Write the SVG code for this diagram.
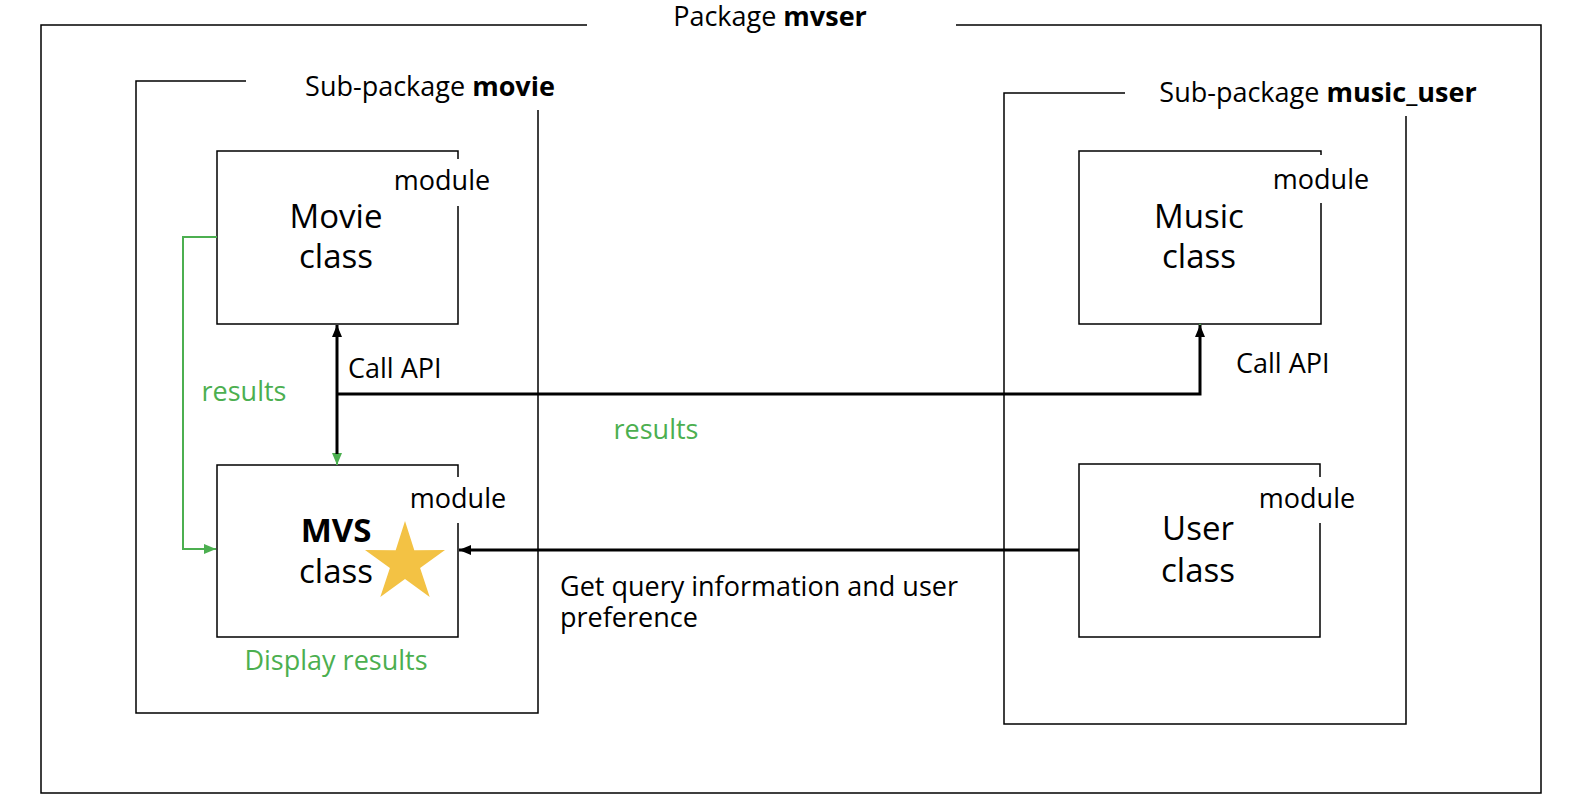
<svg xmlns="http://www.w3.org/2000/svg" width="1576" height="812" viewBox="0 0 1576 812">
<style>
text{font-family:"Open Sans","Liberation Sans",sans-serif;fill:#000}
.s{font-size:27px}
.l{font-size:33px}
.b{font-weight:bold}
.g{fill:#4caf50}
.frame{fill:none;stroke:#000;stroke-width:1.5}
.box{fill:none;stroke:#000;stroke-width:1.5}
.cb{fill:none;stroke:#000;stroke-width:3}
.cg{fill:none;stroke:#4caf50;stroke-width:2}
</style>
<defs>
<marker id="ab" markerUnits="userSpaceOnUse" markerWidth="12" markerHeight="10" refX="12" refY="5" orient="auto">
<path d="M0,0 L12,5 L0,10 z" fill="#000"/>
</marker>
<marker id="ag" markerUnits="userSpaceOnUse" markerWidth="12" markerHeight="10" refX="12" refY="5" orient="auto">
<path d="M0,0 L12,5 L0,10 z" fill="#4caf50"/>
</marker>
</defs>
<rect width="1576" height="812" fill="#fff"/>

<g id="pkg-mvser">
<path class="frame" d="M587,25 H41 V793 H1541 V25 H956"/>
<text class="s" x="770" y="26" text-anchor="middle">Package <tspan class="b">mvser</tspan></text>
</g>

<g id="pkg-movie">
<path class="frame" d="M246,81 H136 V713 H538 V110"/>
<text class="s" x="430" y="96" text-anchor="middle">Sub-package <tspan class="b">movie</tspan></text>
</g>

<g id="pkg-music_user">
<path class="frame" d="M1125,93 H1004 V724 H1406 V116"/>
<text class="s" x="1318" y="102" text-anchor="middle">Sub-package <tspan class="b">music_user</tspan></text>
</g>

<g id="node-movie">
<path class="box" d="M458,159 V151 H217 V324 H458 V206"/>
<text class="s" x="442" y="190" text-anchor="middle">module</text>
<text class="l" x="336" y="228" text-anchor="middle">Movie</text>
<text class="l" x="336" y="268" text-anchor="middle">class</text>
</g>

<g id="node-mvs">
<path class="box" d="M458,477 V465 H217 V637 H458 V523"/>
<text class="s" x="458" y="508" text-anchor="middle">module</text>
<text class="l b" x="336" y="542" text-anchor="middle">MVS</text>
<text class="l" x="336" y="583" text-anchor="middle">class</text>
<polygon fill="#f3c244" points="405,521 414.3,550.2 445,550.0 420.1,567.9 429.7,597.0 405,578.9 380.3,597.0 389.9,567.9 365,550.0 395.7,550.2"/>
<text class="s g" x="336" y="670" text-anchor="middle">Display results</text>
</g>

<g id="node-music">
<path class="box" d="M1321,155 V151 H1079 V324 H1321 V203"/>
<text class="s" x="1321" y="189" text-anchor="middle">module</text>
<text class="l" x="1199" y="228" text-anchor="middle">Music</text>
<text class="l" x="1199" y="268" text-anchor="middle">class</text>
</g>

<g id="node-user">
<path class="box" d="M1320,477 V464 H1079 V637 H1320 V523"/>
<text class="s" x="1307" y="508" text-anchor="middle">module</text>
<text class="l" x="1198" y="540" text-anchor="middle">User</text>
<text class="l" x="1198" y="582" text-anchor="middle">class</text>
</g>

<g id="connectors">
<path class="cg" d="M1200,324 V394 H337 V465" marker-end="url(#ag)"/>
<path class="cg" d="M217,237 H183 V549 H216" marker-end="url(#ag)"/>
<path class="cb" d="M337,454 V325" marker-end="url(#ab)"/>
<path class="cb" d="M337,394 H1200 V325" marker-end="url(#ab)"/>
<path class="cb" d="M1079,550 H459" marker-end="url(#ab)"/>
</g>

<g id="labels">
<text class="s" x="348" y="378">Call API</text>
<text class="s" x="1236" y="373">Call API</text>
<text class="s g" x="244" y="401" text-anchor="middle">results</text>
<text class="s g" x="656" y="439" text-anchor="middle">results</text>
<text class="s" x="560" y="596">Get query information and user</text>
<text class="s" x="560" y="627">preference</text>
</g>
</svg>
